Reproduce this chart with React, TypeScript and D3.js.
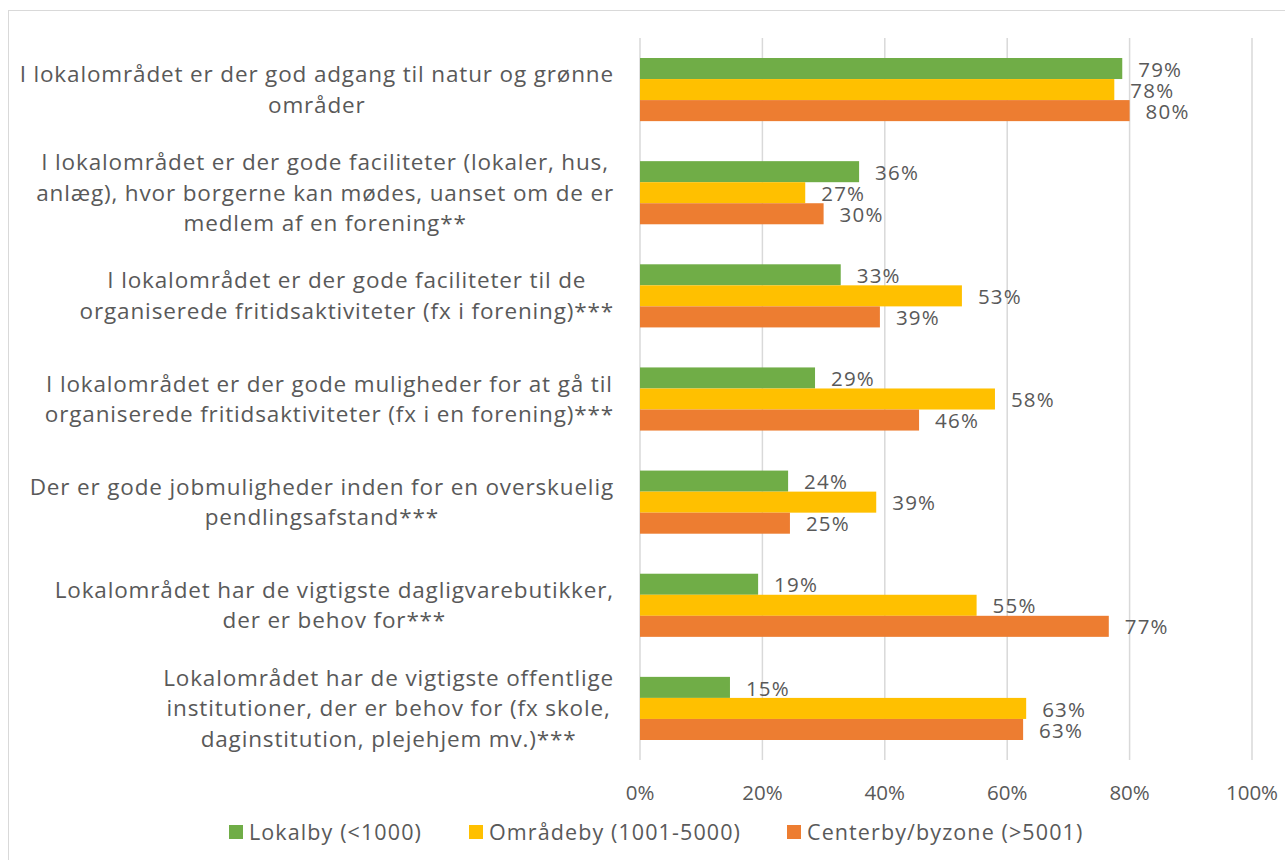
import React, { useEffect, useRef } from "react";
import * as d3 from "d3";

const categories: string[][] = [
  ["I lokalområdet er der god adgang til natur og grønne", "områder"],
  ["I lokalområdet er der gode faciliteter (lokaler, hus,", "anlæg), hvor borgerne kan mødes, uanset om de er", "medlem af en forening**"],
  ["I lokalområdet er der gode faciliteter til de", "organiserede fritidsaktiviteter (fx i forening)***"],
  ["I lokalområdet er der gode muligheder for at gå til", "organiserede fritidsaktiviteter (fx i en forening)***"],
  ["Der er gode jobmuligheder inden for en overskuelig", "pendlingsafstand***"],
  ["Lokalområdet har de vigtigste dagligvarebutikker,", "der er behov for***"],
  ["Lokalområdet har de vigtigste offentlige", "institutioner, der er behov for (fx skole,", "daginstitution, plejehjem mv.)***"],
];

const seriesNames = ["Lokalby (<1000)", "Områdeby (1001-5000)", "Centerby/byzone (>5001)"];
const seriesColors = ["#70ad47", "#ffc000", "#ed7d31"];

const lokalby = [78.8, 35.8, 32.8, 28.6, 24.2, 19.3, 14.7];
const omraadeby = [77.5, 27.0, 52.6, 58.0, 38.6, 55.0, 63.1];
const centerby = [80.0, 30.0, 39.2, 45.6, 24.5, 76.6, 62.6];

const xTicks = [0, 20, 40, 60, 80, 100];

const W = 1285;
const H = 860;
const FONT = "'Open Sans', Lato, sans-serif";
const TEXT = "#595959";

export default function App() {
  const ref = useRef<SVGSVGElement | null>(null);

  useEffect(() => {
    const svg = d3.select(ref.current);
    svg.selectAll("*").remove();

    const left = 640, right = 1252, top = 38, bottom = 760;
    const series = [lokalby, omraadeby, centerby];

    const x = d3.scaleLinear().domain([0, 100]).range([left, right]);
    const y0 = d3.scaleBand<number>().domain(d3.range(categories.length)).range([top, bottom]).paddingInner(0.388).paddingOuter(0.194);
    const y1 = d3.scaleBand<number>().domain([0, 1, 2]).range([0, y0.bandwidth()]);

    // outer border
    svg.append("rect").attr("x", 8.5).attr("y", 10.5).attr("width", W).attr("height", H)
      .attr("fill", "white").attr("stroke", "#d9d9d9").attr("stroke-width", 1);

    // gridlines
    svg.append("g").selectAll("line").data(xTicks).join("line")
      .attr("x1", d => x(d)).attr("x2", d => x(d))
      .attr("y1", top).attr("y2", bottom)
      .attr("stroke", "#d9d9d9").attr("stroke-width", 1.5);

    // tick labels
    svg.append("g").selectAll("text").data(xTicks).join("text")
      .attr("x", d => x(d)).attr("y", 793).attr("dy", "0.35em")
      .attr("text-anchor", "middle").attr("font-family", FONT).attr("font-size", 20.5).attr("fill", TEXT)
      .text(d => `${d}%`);

    // bars
    const groups = svg.append("g").selectAll("g").data(categories.map((_, i) => i)).join("g")
      .attr("transform", i => `translate(0,${y0(i)})`);

    groups.selectAll("rect").data(i => series.map((s, k) => ({ k, v: s[i] }))).join("rect")
      .attr("x", x(0)).attr("y", d => y1(d.k)!)
      .attr("width", d => x(d.v) - x(0)).attr("height", y1.bandwidth())
      .attr("fill", d => seriesColors[d.k]);

    groups.selectAll("text").data(i => series.map((s, k) => ({ k, v: s[i] }))).join("text")
      .attr("x", d => x(d.v) + 16).attr("y", d => y1(d.k)! + y1.bandwidth() / 2 + 1).attr("dy", "0.35em")
      .attr("font-family", FONT).attr("font-size", 20.5).attr("letter-spacing", 1.2).attr("fill", TEXT)
      .text(d => `${Math.round(d.v)}%`);

    // category labels
    const lineH = 30.5;
    const rightEdge = 614;
    categories.forEach((lines, i) => {
      const cy = y0(i)! + y0.bandwidth() / 2;
      const g = svg.append("g");
      const texts = g.selectAll("text").data(lines).join("text")
        .attr("y", (_, j) => cy + (j - (lines.length - 1) / 2) * lineH).attr("dy", "0.35em")
        .attr("text-anchor", "middle").attr("font-family", FONT).attr("font-size", 22.5)
        .attr("letter-spacing", 0.85).attr("fill", TEXT)
        .text(d => d);
      let maxW = 0;
      texts.each(function () {
        maxW = Math.max(maxW, (this as SVGTextElement).getComputedTextLength());
      });
      texts.attr("x", rightEdge - maxW / 2);
    });

    // legend
    const legendY = 832;
    const legendX = [229, 469, 787];
    const lg = svg.append("g").selectAll("g").data(seriesNames).join("g")
      .attr("transform", (_, k) => `translate(${legendX[k]},${legendY})`);
    lg.append("rect").attr("x", 0).attr("y", -7).attr("width", 14).attr("height", 14)
      .attr("fill", (_, k) => seriesColors[k]);
    lg.append("text").attr("x", 20).attr("y", 0).attr("dy", "0.35em")
      .attr("font-family", FONT).attr("font-size", 21.5).attr("letter-spacing", 1.1).attr("fill", TEXT)
      .text(d => d);
  }, []);

  return (
    <svg ref={ref} width={W} height={H} style={{ position: "absolute", left: 0, top: 0, display: "block" }} />
  );
}
